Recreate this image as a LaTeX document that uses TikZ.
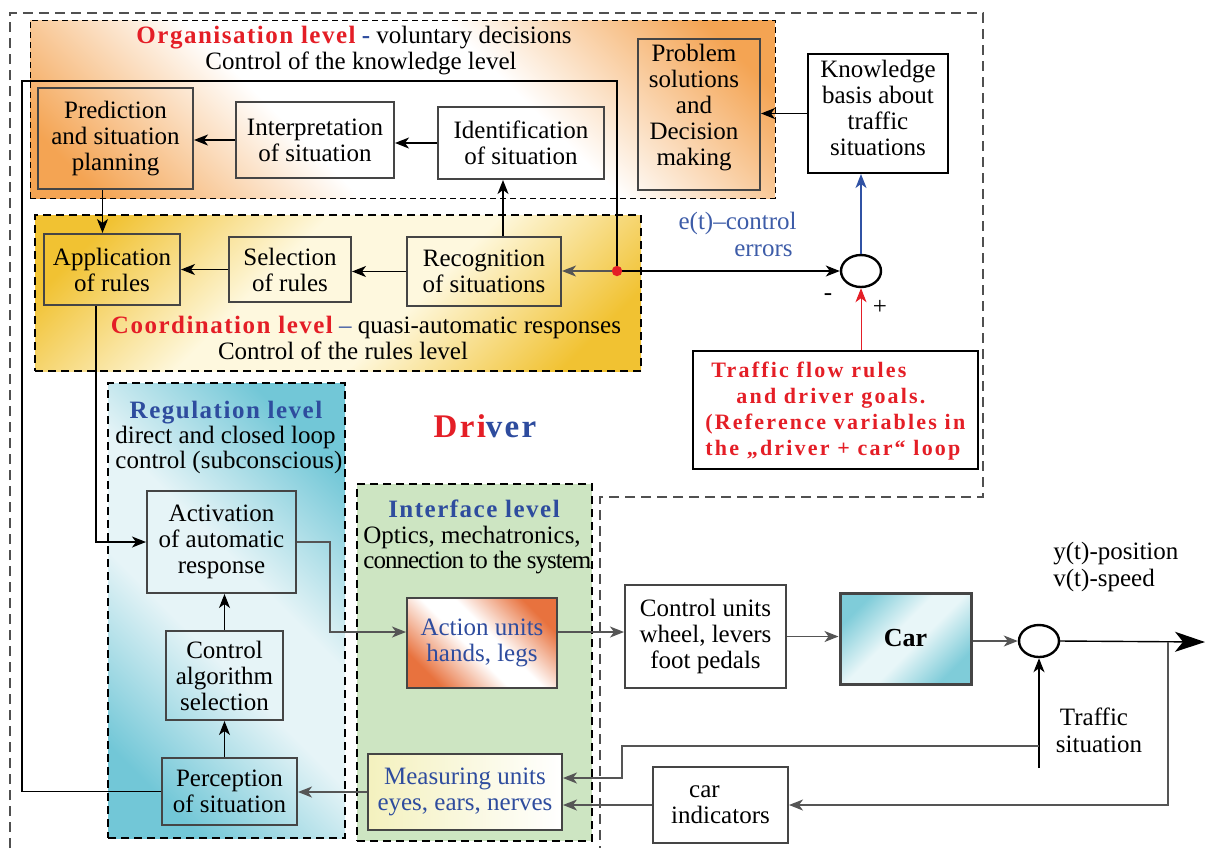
\documentclass[tikz,border=0pt]{standalone}
\usepackage{fontspec}
\setmainfont{Liberation Serif}
\usetikzlibrary{arrows.meta,calc,shapes.geometric}
\definecolor{tred}{HTML}{E41E26}
\definecolor{tblue}{HTML}{2E4C9E}
\definecolor{eblue}{HTML}{3D5CA8}
\definecolor{boxgray}{HTML}{454545}
\definecolor{lgray}{HTML}{555555}
\definecolor{orgO}{HTML}{F4A453}
\definecolor{coordG}{HTML}{F1C232}
\definecolor{cream}{HTML}{FEF8DE}
\definecolor{regT}{HTML}{72C7D7}
\definecolor{regL}{HTML}{E6F4F7}
\definecolor{actO}{HTML}{E8723E}
\definecolor{carT}{HTML}{7FCCD9}
\definecolor{carL}{HTML}{E8F6F8}
\definecolor{ifGreen}{HTML}{CDE5C2}
\definecolor{measY}{HTML}{F4F1BE}
\definecolor{driverDash}{HTML}{505050}
\definecolor{sumBlue}{HTML}{3052A4}
\pgfdeclareverticalshading{orgshade}{100bp}{color(0bp)=(orgO); color(20bp)=(orgO); color(40bp)=(white); color(60bp)=(white); color(80bp)=(orgO); color(100bp)=(orgO)}
\pgfdeclareverticalshading{coordshade}{100bp}{color(0bp)=(coordG); color(22bp)=(coordG); color(42bp)=(cream); color(58bp)=(cream); color(78bp)=(coordG); color(100bp)=(coordG)}
\pgfdeclareverticalshading{regshade}{100bp}{color(0bp)=(regT); color(24bp)=(regT); color(44bp)=(regL); color(56bp)=(regL); color(76bp)=(regT); color(100bp)=(regT)}
\pgfdeclareverticalshading{actshade}{100bp}{color(0bp)=(actO); color(25bp)=(actO); color(45bp)=(white); color(55bp)=(white); color(75bp)=(actO); color(100bp)=(actO)}
\pgfdeclareverticalshading{carshade}{100bp}{color(0bp)=(carT); color(25bp)=(carT); color(45bp)=(carL); color(55bp)=(carL); color(75bp)=(carT); color(100bp)=(carT)}
\newcommand\bodyfs{\fontsize{12.5}{13}\selectfont}
\newcommand\titlefs{\fontsize{12.5}{13}\selectfont\bfseries\addfontfeature{LetterSpace=6}}
\newcommand\drvfs{\fontsize{16.5}{18}\selectfont\bfseries\addfontfeature{LetterSpace=7}}
\newcommand\tfrfs{\fontsize{11}{13}\selectfont\bfseries\addfontfeature{LetterSpace=10}}
\newcommand\carfs{\fontsize{13}{15}\selectfont\bfseries}
\begin{document}
\begin{tikzpicture}[x=0.5pt,y=-0.5pt,
  box/.style={draw=boxgray,line width=1pt,inner sep=0pt,align=center,font=\bodyfs},
  lvl/.style={inner sep=0pt,line width=1pt,dash pattern=on 4pt off 2.5pt,draw=black},
  txt/.style={inner sep=0pt,font=\bodyfs},
  arr/.style={line width=0.7pt,-{Stealth[length=7pt,width=5.5pt,inset=2pt]}},
  garr/.style={arr,draw=lgray},
  barr/.style={arr,draw=sumBlue},
  rarr/.style={arr,draw=tred},
  gline/.style={line width=0.7pt,draw=lgray},
  bline/.style={line width=0.7pt,draw=black},
  bigarr/.style={line width=0.7pt,-{Stealth[length=15pt,width=10pt,inset=4pt]}},
  sumnode/.style={draw=black,line width=1.2pt,ellipse,minimum width=20pt,minimum height=16pt,inner sep=0pt}
]
\useasboundingbox (0,0) rectangle (1205,848);

% Driver boundary
\draw[driverDash,line width=0.6pt,dash pattern=on 5pt off 3pt] (10,848) -- (10,13) -- (983,13) -- (983,497) -- (600,497) -- (600,848);

% level regions
\node[lvl,line width=0.5pt,dash pattern=on 3pt off 2pt,shade,shading=orgshade,shading angle=-45,minimum width=372.5pt,minimum height=89pt] (orgLvl) at (402.5,109) {};
\node[lvl,shade,shading=coordshade,shading angle=45,minimum width=303pt,minimum height=78pt] (coordLvl) at (338,293) {};
\node[lvl,shade,shading=regshade,shading angle=-45,minimum width=118.5pt,minimum height=227.5pt] (regLvl) at (226.5,610.5) {};
\node[lvl,fill=ifGreen,minimum width=117.5pt,minimum height=178.5pt] (ifLvl) at (474.5,662.5) {};

% titles
\node[txt,anchor=base] (orgT1) at (354,43) {{\titlefs\color{tred}Organisation level} {\titlefs\color{tblue}-} voluntary decisions};
\node[txt,anchor=base] (orgT2) at (361,69) {Control of the knowledge level};
\node[txt,anchor=base] (coordT1) at (366,333) {{\titlefs\color{tred}Coordination level} {\color{tblue}–} quasi-automatic responses};
\node[txt,anchor=base] (coordT2) at (343,359) {Control of the rules level};
\node[txt,anchor=base] (regT1) at (226,418) {\titlefs\color{tblue}Regulation level};
\node[txt,anchor=base west] (regT2) at (115,443) {direct and closed loop};
\node[txt,anchor=base west] (regT3) at (115,468) {control (subconscious)};
\node[txt,anchor=base] (ifT1) at (474,517) {\titlefs\color{tblue}Interface level};
\node[txt,anchor=base west] (ifT2) at (363,543) {Optics, mechatronics,};
\node[txt,anchor=base west] (ifT3) at (363,568) {\addfontfeature{LetterSpace=-4}connection to the system};
\node[inner sep=0pt,font=\drvfs,anchor=base] (drv) at (485,437) {\color{tred}Dri\color{tblue}ver};

% organisation boxes
\node[box,minimum width=77.5pt,minimum height=50.5pt] (pred) at (115.5,138.5) {Prediction\\and situation\\planning};
\node[box,minimum width=79pt,minimum height=38pt] (interp) at (315,140) {Interpretation\\of situation};
\node[box,minimum width=83pt,minimum height=36pt] (ident) at (521,143) {Identification\\of situation};
\node[box,minimum width=61pt,minimum height=75.5pt] (prob) at (699,114.5) {};
\node[txt,align=center] (probT) at (694,108) {Problem\\solutions\\and\\Decision\\making};
\node[box,draw=black,minimum width=70pt,minimum height=59.5pt] (know) at (878,113.5) {};
\node[txt,align=center] (knowT) at (878,108) {Knowledge\\basis about\\traffic\\situations};

% coordination boxes
\node[box,minimum width=68pt,minimum height=35.5pt] (appl) at (112,269.5) {Application\\of rules};
\node[box,minimum width=61pt,minimum height=32.5pt] (sel) at (290,269.5) {Selection\\of rules};
\node[box,minimum width=77pt,minimum height=34.5pt] (recog) at (484,271.5) {Recognition\\of situations};

% comparator and reference
\node[sumnode] (sum1) at (861,271) {};
\node[txt] (minus) at (828,297) {-};
\node[txt] (plus) at (880,307) {+};
\node[txt,anchor=base east,text=eblue] (errT1) at (797,229) {e(t)–control};
\node[txt,anchor=base east,text=eblue] (errT2) at (793,256) {errors};
\node[draw=black,line width=1.4pt,minimum width=142.5pt,minimum height=59pt,inner sep=0pt] (tfr) at (835.5,410) {};
\node[inner sep=0pt,anchor=west,align=left,font=\tfrfs,text=tred] (tfrT) at (705,411) {\hspace*{3pt}Traffic flow rules\\\hspace*{15.5pt}and driver goals.\\(Reference variables in\\the „driver + car“ loop};

% regulation boxes
\node[box,minimum width=74.5pt,minimum height=51pt] (activ) at (221.5,542) {Activation\\of automatic\\response};
\node[box,minimum width=58.5pt,minimum height=44.5pt] (ctrl) at (224.5,675.5) {Control\\algorithm\\selection};
\node[box,minimum width=67.5pt,minimum height=33.5pt] (perc) at (229.5,791.5) {Perception\\of situation};

% interface boxes
\node[box,shade,shading=actshade,shading angle=-45,text=tblue,minimum width=75pt,minimum height=45pt] (action) at (482,643) {Action units\\hands, legs};
\node[box,left color=measY,right color=white,text=tblue,minimum width=97pt,minimum height=38pt] (meas) at (465,792) {Measuring units\\eyes, ears, nerves};

% plant side
\node[box,minimum width=80.5pt,minimum height=51.5pt] (cu) at (705.5,636.5) {Control units\\wheel, levers\\foot pedals};
\node[box,line width=1.5pt,shade,shading=carshade,shading angle=45,font=\carfs,minimum width=65.5pt,minimum height=45.5pt] (car) at (905.5,638.5) {Car};
\node[sumnode] (sum2) at (1039,641) {};
\node[box,align=left,minimum width=67.5pt,minimum height=38pt] (ind) at (720.5,805) {\hspace*{9pt}car\\indicators};
\node[txt,anchor=base west] (yT) at (1053,559) {y(t)-position};
\node[txt,anchor=base west] (vT) at (1053,586) {v(t)-speed};
\node[txt,anchor=base] (tsT1) at (1094,725) {Traffic};
\node[txt,anchor=base] (tsT2) at (1099,752) {situation};

% coordinates
\coordinate (dot) at (617,271);
\coordinate (loopL) at (22,81);
\coordinate (out) at (1205,642);
\coordinate (br) at (1168,642);
\coordinate (tsBot) at (1039,768);
\coordinate (tsBr) at (1039,746);
\coordinate (tsK) at (622,746);

% connectors: organisation / coordination
\draw[arr] (know.west) -- (know.west -| prob.east);
\draw[arr] (ident.west) -- (ident.west -| interp.east);
\draw[arr] (interp.west) -- (interp.west -| pred.east);
\draw[arr] ([xshift=-6.5pt]pred.south) -- ([xshift=-6.5pt]pred.south |- appl.north);
\draw[arr] ([xshift=9.5pt]recog.north) -- ([xshift=9.5pt]recog.north |- ident.south);
\draw[arr] (recog.west) -- (recog.west -| sel.east);
\draw[arr] (sel.west) -- (sel.west -| appl.east);
\draw[arr] ([xshift=-8pt]appl.south) |- (activ.west);

% feedback loop
\draw[bline] (perc.west) -| (loopL) -| (dot);
\draw[garr] (dot) -- (dot -| recog.east);
\draw[arr] (dot) -- (sum1.west);
\fill[tred] (dot) circle (2.6pt);
\draw[barr] (sum1.north) -- (sum1.north |- know.south);
\draw[rarr,line width=0.5pt] (sum1.south |- tfr.north) -- (sum1.south);

% regulation
\draw[arr] (ctrl.south |- perc.north) -- (ctrl.south);
\draw[arr] (ctrl.north) -- (ctrl.north |- activ.south);
\draw[garr] (activ.east) -- ++(16.5pt,0) |- ([yshift=5.5pt]action.west);

% plant side
\draw[garr] ([yshift=5.5pt]action.east) -- ([yshift=5.5pt]action.east -| cu.west);
\draw[garr] (cu.east) -- (cu.east -| car.west);
\draw[garr] (sum2.west -| car.east) -- (sum2.west);
\draw[bigarr] (sum2.east) -- (out);
\draw[garr] (br) |- (ind.east);
\draw[garr] (ind.west) -- (ind.west -| meas.east);
\draw[arr] (tsBot) -- (sum2.south);
\draw[garr] (tsBr) -- (tsK) |- ([yshift=7pt]meas.east);
\draw[garr] (meas.west) -- (meas.west -| perc.east);
\end{tikzpicture}
\end{document}
